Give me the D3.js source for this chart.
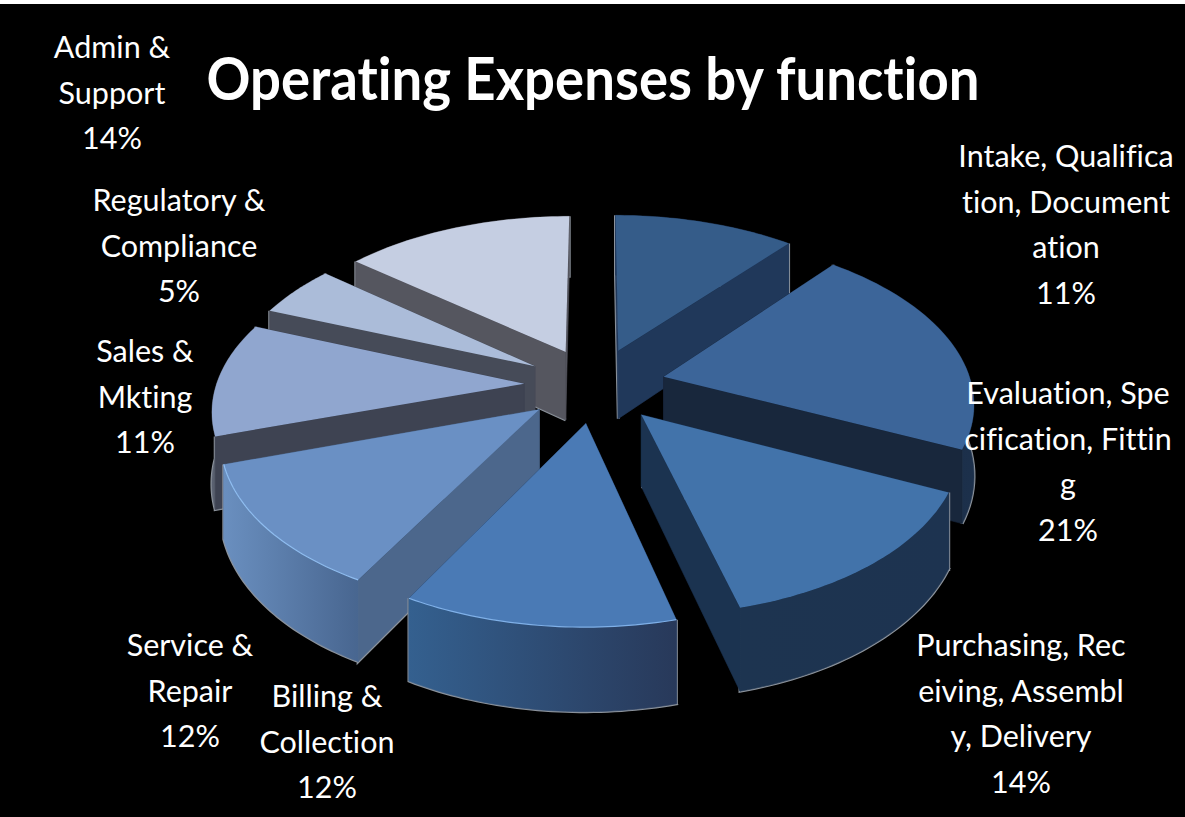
<!DOCTYPE html>
<html>
<head>
<meta charset="utf-8">
<script src="https://cdn.jsdelivr.net/npm/d3@7/dist/d3.min.js"></script>
<style>
  html, body { margin: 0; padding: 0; background: #000; }
  svg { display: block; }
  text { font-family: Lato, "Noto Sans", sans-serif; fill: #fff; text-anchor: middle; font-variant-ligatures: none; }
</style>
</head>
<body>
<svg id="chart" width="1185" height="817"></svg>
<script>
// Operating expense shares, clockwise from twelve o'clock
const functions = [
  "Intake, Qualification, Documentation",
  "Evaluation, Specification, Fitting",
  "Purchasing, Receiving, Assembly, Delivery",
  "Billing & Collection",
  "Service & Repair",
  "Sales & Mkting",
  "Regulatory & Compliance",
  "Admin & Support"
];
const shares = [11, 21, 14, 12, 12, 11, 5, 14];

// Wrapped label lines as they are set on the slide
const labelLines = [
  ["Intake, Qualifica", "tion, Document", "ation", "11%"],
  ["Evaluation, Spe", "cification, Fittin", "g", "21%"],
  ["Purchasing, Rec", "eiving, Assembl", "y, Delivery", "14%"],
  ["Billing &", "Collection", "12%"],
  ["Service &", "Repair", "12%"],
  ["Sales &", "Mkting", "11%"],
  ["Regulatory &", "Compliance", "5%"],
  ["Admin &", "Support", "14%"]
];
const labelX = [1066, 1068, 1021, 327, 190, 145, 179, 112];
const labelTop = [167, 404, 656, 707, 656, 362, 211, 58];

// Face colours per slice
const topFill = ["#355c89", "#3c6599", "#4273aa", "#4a7ab5", "#6a90c4", "#90a6cf", "#abbcd9", "#c5cee2"];
const radialFill = ["#20385a", "#18273c", "#1b3350", "#2b4a73", "#4c678c", "#3e4352", "#464b58", "#55565f"];
const wallLeft = ["#20385a", "#1a2b45", "#1d3450", "#34608f", "#6a8fbf", "#5a6170", "#5a5f6c", "#6a6b74"];
const wallRight = ["#20385a", "#1c304b", "#1d3350", "#28395a", "#486690", "#3e4352", "#464b58", "#55565f"];
const rimFill = ["none", "none", "none", "#7fb0e8", "#8fbdf0", "none", "none", "none"];

const cx = 595, cy = 385;
const radius = 308, flatten = 0.53, depthPull = 0.14;
const explode = 0.23, extrude = 70;

const svg = d3.select("#chart");
const defs = svg.append("defs");
svg.append("rect").attr("width", 1185).attr("height", 4).attr("fill", "#fff");

const arcs = d3.pie().sort(null).value(d => d)(shares);

// Ground-plane point (u right, v toward the viewer) to screen, at height z above the base
function project(u, v, z) {
  const w = 1 / (1 - depthPull * v);
  return [cx + radius * u * w, cy + radius * flatten * v * w + extrude * z * w];
}

const line = d3.line();

const slices = arcs.map((a, i) => {
  const mid = (a.startAngle + a.endAngle) / 2;
  const ox = explode * Math.sin(mid), oy = -explode * Math.cos(mid);
  const steps = d3.range(0, 41).map(t => a.startAngle + (a.endAngle - a.startAngle) * t / 40);
  const rim = steps.map(t => [ox + Math.sin(t), oy - Math.cos(t)]);
  return { i, ox, oy, rim };
});

// Back slices first so nearer ones overlap them
const paintOrder = slices.slice().sort((p, q) => p.oy - q.oy);

paintOrder.forEach(s => {
  const g = svg.append("g");
  const tip = [s.ox, s.oy];
  const topRim = s.rim.map(p => project(p[0], p[1], 0));
  const baseRim = s.rim.map(p => project(p[0], p[1], 1));
  const tipTop = project(tip[0], tip[1], 0), tipBase = project(tip[0], tip[1], 1);

  const wallId = "wall" + s.i;
  const xs = baseRim.map(p => p[0]);
  const grad = defs.append("linearGradient").attr("id", wallId)
    .attr("gradientUnits", "userSpaceOnUse")
    .attr("x1", d3.min(xs)).attr("x2", d3.max(xs)).attr("y1", 0).attr("y2", 0);
  grad.append("stop").attr("offset", 0).attr("stop-color", wallLeft[s.i]);
  grad.append("stop").attr("offset", 1).attr("stop-color", wallRight[s.i]);

  // Grey bevel: laid under the faces so only the outer silhouette shows
  g.append("path").attr("d", line([topRim[0], baseRim[0], tipBase].concat(baseRim, [topRim[40]])))
    .attr("fill", "none").attr("stroke", "#8b929b").attr("stroke-width", 3);

  const first = s.rim[0], last = s.rim[s.rim.length - 1];
  const faces = [
    { depth: (s.oy + first[1]) / 2, fill: radialFill[s.i],
      pts: [tipTop, topRim[0], baseRim[0], tipBase] },
    { depth: (s.oy + last[1]) / 2, fill: radialFill[s.i],
      pts: [tipTop, topRim[40], baseRim[40], tipBase] },
    { depth: d3.mean(s.rim, p => p[1]), fill: `url(#${wallId})`,
      pts: topRim.concat(baseRim.slice().reverse()) }
  ].sort((p, q) => p.depth - q.depth);

  faces.forEach(f => {
    g.append("path").attr("d", line(f.pts) + "Z")
      .attr("fill", f.fill).attr("stroke", f.fill).attr("stroke-width", 0.6);
  });

  g.append("path").attr("d", line([tipTop].concat(topRim)) + "Z")
    .attr("fill", topFill[s.i]);

  if (rimFill[s.i] !== "none") {
    g.append("path").attr("d", line(topRim))
      .attr("fill", "none").attr("stroke", rimFill[s.i]).attr("stroke-width", 1.2);
  }
});

// Title
svg.append("text").attr("x", 593).attr("y", 100)
  .attr("font-size", 60).attr("font-weight", 700)
  .attr("textLength", 773).attr("lengthAdjust", "spacingAndGlyphs")
  .text("Operating Expenses by function");

// Slice labels
labelLines.forEach((lines, i) => {
  const t = svg.append("text").attr("aria-label", functions[i]).attr("font-size", 30.5);
  lines.forEach((s, k) => {
    t.append("tspan").attr("x", labelX[i]).attr("y", labelTop[i] + k * 45.5).text(s);
  });
});
</script>
</body>
</html>
